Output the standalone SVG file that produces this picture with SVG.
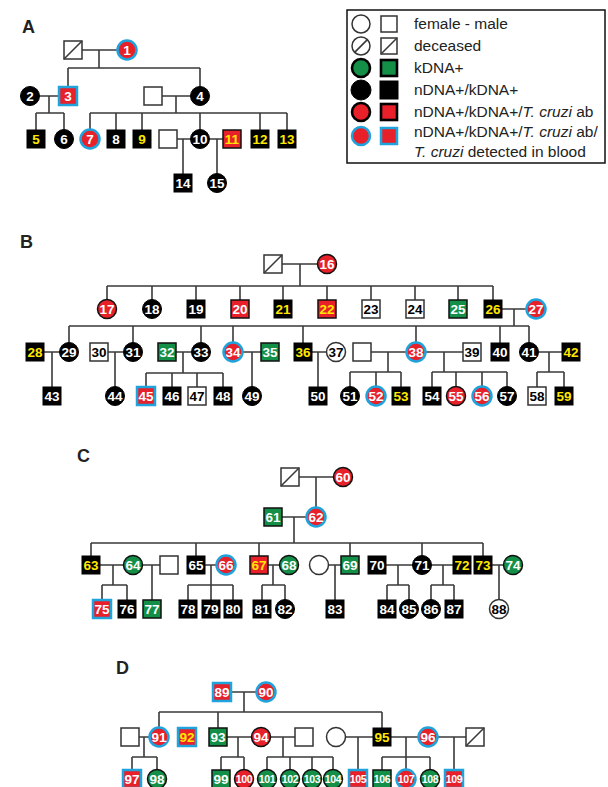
<svg xmlns="http://www.w3.org/2000/svg" width="608" height="787" viewBox="0 0 608 787">
<style>
.l{stroke:#3a3a3a;stroke-width:1.6;fill:none}
.k{fill:#000;stroke:#000;stroke-width:1}
.w{fill:#fff;stroke:#333;stroke-width:1.5}
.r{fill:#e8202a;stroke:#111;stroke-width:1.5}
.g{fill:#138f48;stroke:#111;stroke-width:1.5}
.b{fill:#e8202a;stroke:#1fa3dd;stroke-width:2.5}
.n{font-family:"Liberation Sans",Arial,sans-serif;font-weight:bold;font-size:13.5px;text-anchor:middle}
.s{font-size:10.5px;letter-spacing:-0.4px}
.tw{fill:#fff}.ty{fill:#ffe800}.tk{fill:#000}
.lab{font-family:"Liberation Sans",Arial,sans-serif;font-weight:bold;font-size:18px;fill:#222}
.lg{font-family:"Liberation Sans",Arial,sans-serif;font-size:15.5px;fill:#222}
.lgk{stroke:#000;stroke-width:2.6}
</style>
<rect width="608" height="787" fill="#fff"/>

<!-- Legend -->
<g id="legend">
<rect x="347" y="10" width="258" height="153" fill="#fff" stroke="#111" stroke-width="1.5"/>
<circle class="w" cx="361" cy="24" r="9"/><rect class="w" x="381" y="16" width="16" height="16"/>
<circle class="w" cx="361" cy="46" r="9"/><path class="l" d="M354.6,52.4 L367.4,39.6"/>
<rect class="w" x="381" y="38" width="16" height="16"/><path class="l" d="M381,54 L397,38"/>
<circle class="g lgk" cx="361" cy="68" r="9"/><rect class="g lgk" x="381" y="60" width="16" height="16"/>
<circle class="k" cx="361" cy="90" r="10"/><rect class="k" x="380" y="81" width="18" height="18"/>
<circle class="r lgk" cx="361" cy="112" r="9"/><rect class="r lgk" x="381" y="104" width="16" height="16"/>
<circle class="b" cx="361" cy="136" r="9"/><rect class="b" x="381" y="128" width="16" height="16"/>
<text class="lg" x="414" y="29">female - male</text>
<text class="lg" x="414" y="51">deceased</text>
<text class="lg" x="414" y="73">kDNA+</text>
<text class="lg" x="414" y="95">nDNA+/kDNA+</text>
<text class="lg" x="414" y="117">nDNA+/kDNA+/<tspan font-style="italic">T. cruzi</tspan> ab</text>
<text class="lg" x="414" y="137">nDNA+/kDNA+/<tspan font-style="italic">T. cruzi</tspan> ab/</text>
<text class="lg" x="414" y="157"><tspan font-style="italic">T. cruzi</tspan> detected in blood</text>
</g>

<!-- Panel labels -->
<text class="lab" x="22" y="33">A</text>
<text class="lab" x="20" y="248">B</text>
<text class="lab" x="77" y="462">C</text>
<text class="lab" x="116" y="674">D</text>

<!-- Connectors -->
<g id="connectors" class="l">
<path d="M82,50H117.5 M99,50V68 M68,68H200 M68,68V87 M200,68V86.5 M39.5,96H59 M49,96V113 M36,113H64 M36,113V130 M64,113V129.5 M162,96H190.5 M176,96V113 M90,113H287 M90,113V129.5 M116,113V130 M142,113V130 M200,113V129.5 M260,113V130 M287,113V130 M177,139H190.5 M183,139V174 M209.5,139H223 M217,139V173.5"/>
<path d="M282,264H317.5 M300,264V286 M107,286H493 M107,286V299.5 M152,286V299.5 M196,286V300 M240,286V300 M283,286V300 M327,286V300 M371,286V300 M415,286V300 M458,286V300 M493,286V300 M502,309H526.5 M514,309V326 M69,326H529 M69,326V342.5 M133,326V342.5 M201,326V342.5 M233,326V342.5 M303,326V343 M416,326V342.5 M500,326V343 M529,326V342.5"/>
<path d="M44,352H59.5 M52,352V387 M108,352H123.5 M115,352V386.5 M176,352H191.5 M183,352V373 M146,373H223 M146,373V387 M172,373V387 M197,373V387 M223,373V387 M242.5,352H261 M252,352V386.5 M312,352H326.5 M318,352V387 M371,352H406.5 M388,352V372 M350,372H401 M350,372V386.5 M376,372V386.5 M401,372V387 M425.5,352H463 M444,352V372 M432,372H507 M432,372V387 M456,372V386.5 M482,372V386.5 M507,372V386.5 M538.5,352H562 M549,352V372 M537,372H564 M537,372V387 M564,372V387"/>
<path d="M299,477H333.5 M316,477V507.5 M282,517H306.5 M294,517V543 M91,543H483 M91,543V556 M196,543V556 M259,543V556 M350,543V556 M422,543V555.5 M483,543V556 M100,565H123.5 M113,565V585 M102,585H127 M102,585V600 M127,585V600 M142.5,565H160 M152,565V600 M205,565H216.5 M211,565V585 M188,585H233 M188,585V600 M211,585V600 M233,585V600 M268,565H279.5 M273,565V585 M262,585H285 M262,585V600 M285,585V599.5 M328.5,565H341 M335,565V600 M386,565H412.5 M398,565V585 M387,585H409 M387,585V600 M409,585V599.5 M431.5,565H453 M443,565V585 M431,585H454 M431,585V599.5 M454,585V600 M492,565H503.5 M499,565V599.5"/>
<path d="M231,692H256.5 M244,692V712 M159,712H382 M159,712V727.5 M218,712V728 M382,712V728 M139,737H149.5 M144,737V757 M132,757H157 M132,757V770 M157,757V769.5 M227,737H251.5 M238,737V757 M221,757H244 M221,757V770 M244,757V769.5 M270.5,737H295 M283,737V757 M267,757H333 M267,757V769.5 M290,757V769.5 M312,757V769.5 M333,757V769.5 M345.5,737H373 M358,737V770 M391,737H418.5 M406,737V757 M382,757H430 M382,757V770 M406,757V769.5 M430,757V769.5 M437.5,737H466 M454,737V770"/>
</g>

<!-- Panel A nodes -->
<g id="A-d1"><rect class="w" x="64" y="41" width="18" height="18"/><path class="l" d="M64,59L82,41"/></g>
<g id="n1"><circle class="b" cx="127" cy="50" r="9.5"/><text class="n tw" x="127" y="54.5">1</text></g>
<g id="n2"><circle class="k" cx="30" cy="96" r="9.5"/><text class="n tw" x="30" y="100.5">2</text></g>
<g id="n3"><rect class="b" x="59" y="87" width="18" height="18"/><text class="n tw" x="68" y="100.5">3</text></g>
<g id="A-u1"><rect class="w" x="144" y="87" width="18" height="18"/></g>
<g id="n4"><circle class="k" cx="200" cy="96" r="9.5"/><text class="n tw" x="200" y="100.5">4</text></g>
<g id="n5"><rect class="k" x="27" y="130" width="18" height="18"/><text class="n ty" x="36" y="143.5">5</text></g>
<g id="n6"><circle class="k" cx="64" cy="139" r="9.5"/><text class="n tw" x="64" y="143.5">6</text></g>
<g id="n7"><circle class="b" cx="90" cy="139" r="9.5"/><text class="n tw" x="90" y="143.5">7</text></g>
<g id="n8"><rect class="k" x="107" y="130" width="18" height="18"/><text class="n tw" x="116" y="143.5">8</text></g>
<g id="n9"><rect class="k" x="133" y="130" width="18" height="18"/><text class="n ty" x="142" y="143.5">9</text></g>
<g id="A-u2"><rect class="w" x="159" y="130" width="18" height="18"/></g>
<g id="n10"><circle class="k" cx="200" cy="139" r="9.5"/><text class="n tw" x="200" y="143.5">10</text></g>
<g id="n11"><rect class="r" x="223" y="130" width="18" height="18"/><text class="n ty" x="232" y="143.5">11</text></g>
<g id="n12"><rect class="k" x="251" y="130" width="18" height="18"/><text class="n ty" x="260" y="143.5">12</text></g>
<g id="n13"><rect class="k" x="278" y="130" width="18" height="18"/><text class="n ty" x="287" y="143.5">13</text></g>
<g id="n14"><rect class="k" x="174" y="174" width="18" height="18"/><text class="n tw" x="183" y="187.5">14</text></g>
<g id="n15"><circle class="k" cx="217" cy="183" r="9.5"/><text class="n tw" x="217" y="187.5">15</text></g>

<!-- Panel B nodes -->
<g id="B-d1"><rect class="w" x="264" y="255" width="18" height="18"/><path class="l" d="M264,273L282,255"/></g>
<g id="n16"><circle class="r" cx="327" cy="264" r="9.5"/><text class="n tw" x="327" y="268.5">16</text></g>
<g id="n17"><circle class="r" cx="107" cy="309" r="9.5"/><text class="n tw" x="107" y="313.5">17</text></g>
<g id="n18"><circle class="k" cx="152" cy="309" r="9.5"/><text class="n tw" x="152" y="313.5">18</text></g>
<g id="n19"><rect class="k" x="187" y="300" width="18" height="18"/><text class="n tw" x="196" y="313.5">19</text></g>
<g id="n20"><rect class="r" x="231" y="300" width="18" height="18"/><text class="n tw" x="240" y="313.5">20</text></g>
<g id="n21"><rect class="k" x="274" y="300" width="18" height="18"/><text class="n ty" x="283" y="313.5">21</text></g>
<g id="n22"><rect class="r" x="318" y="300" width="18" height="18"/><text class="n ty" x="327" y="313.5">22</text></g>
<g id="n23"><rect class="w" x="362" y="300" width="18" height="18"/><text class="n tk" x="371" y="313.5">23</text></g>
<g id="n24"><rect class="w" x="406" y="300" width="18" height="18"/><text class="n tk" x="415" y="313.5">24</text></g>
<g id="n25"><rect class="g" x="449" y="300" width="18" height="18"/><text class="n tw" x="458" y="313.5">25</text></g>
<g id="n26"><rect class="k" x="484" y="300" width="18" height="18"/><text class="n ty" x="493" y="313.5">26</text></g>
<g id="n27"><circle class="b" cx="536" cy="309" r="9.5"/><text class="n tw" x="536" y="313.5">27</text></g>
<g id="n28"><rect class="k" x="26" y="343" width="18" height="18"/><text class="n ty" x="35" y="356.5">28</text></g>
<g id="n29"><circle class="k" cx="69" cy="352" r="9.5"/><text class="n tw" x="69" y="356.5">29</text></g>
<g id="n30"><rect class="w" x="90" y="343" width="18" height="18"/><text class="n tk" x="99" y="356.5">30</text></g>
<g id="n31"><circle class="k" cx="133" cy="352" r="9.5"/><text class="n tw" x="133" y="356.5">31</text></g>
<g id="n32"><rect class="g" x="158" y="343" width="18" height="18"/><text class="n tw" x="167" y="356.5">32</text></g>
<g id="n33"><circle class="k" cx="201" cy="352" r="9.5"/><text class="n tw" x="201" y="356.5">33</text></g>
<g id="n34"><circle class="b" cx="233" cy="352" r="9.5"/><text class="n tw" x="233" y="356.5">34</text></g>
<g id="n35"><rect class="g" x="261" y="343" width="18" height="18"/><text class="n tw" x="270" y="356.5">35</text></g>
<g id="n36"><rect class="k" x="294" y="343" width="18" height="18"/><text class="n ty" x="303" y="356.5">36</text></g>
<g id="n37"><circle class="w" cx="336" cy="352" r="9.5"/><text class="n tk" x="336" y="356.5">37</text></g>
<g id="B-u1"><rect class="w" x="353" y="343" width="18" height="18"/></g>
<g id="n38"><circle class="b" cx="416" cy="352" r="9.5"/><text class="n tw" x="416" y="356.5">38</text></g>
<g id="n39"><rect class="w" x="463" y="343" width="18" height="18"/><text class="n tk" x="472" y="356.5">39</text></g>
<g id="n40"><rect class="k" x="491" y="343" width="18" height="18"/><text class="n tw" x="500" y="356.5">40</text></g>
<g id="n41"><circle class="k" cx="529" cy="352" r="9.5"/><text class="n tw" x="529" y="356.5">41</text></g>
<g id="n42"><rect class="k" x="562" y="343" width="18" height="18"/><text class="n ty" x="571" y="356.5">42</text></g>
<g id="n43"><rect class="k" x="43" y="387" width="18" height="18"/><text class="n tw" x="52" y="400.5">43</text></g>
<g id="n44"><circle class="k" cx="115" cy="396" r="9.5"/><text class="n tw" x="115" y="400.5">44</text></g>
<g id="n45"><rect class="b" x="137" y="387" width="18" height="18"/><text class="n tw" x="146" y="400.5">45</text></g>
<g id="n46"><rect class="k" x="163" y="387" width="18" height="18"/><text class="n tw" x="172" y="400.5">46</text></g>
<g id="n47"><rect class="w" x="188" y="387" width="18" height="18"/><text class="n tk" x="197" y="400.5">47</text></g>
<g id="n48"><rect class="k" x="214" y="387" width="18" height="18"/><text class="n tw" x="223" y="400.5">48</text></g>
<g id="n49"><circle class="k" cx="252" cy="396" r="9.5"/><text class="n tw" x="252" y="400.5">49</text></g>
<g id="n50"><rect class="k" x="309" y="387" width="18" height="18"/><text class="n tw" x="318" y="400.5">50</text></g>
<g id="n51"><circle class="k" cx="350" cy="396" r="9.5"/><text class="n tw" x="350" y="400.5">51</text></g>
<g id="n52"><circle class="b" cx="376" cy="396" r="9.5"/><text class="n tw" x="376" y="400.5">52</text></g>
<g id="n53"><rect class="k" x="392" y="387" width="18" height="18"/><text class="n ty" x="401" y="400.5">53</text></g>
<g id="n54"><rect class="k" x="423" y="387" width="18" height="18"/><text class="n tw" x="432" y="400.5">54</text></g>
<g id="n55"><circle class="r" cx="456" cy="396" r="9.5"/><text class="n tw" x="456" y="400.5">55</text></g>
<g id="n56"><circle class="b" cx="482" cy="396" r="9.5"/><text class="n tw" x="482" y="400.5">56</text></g>
<g id="n57"><circle class="k" cx="507" cy="396" r="9.5"/><text class="n tw" x="507" y="400.5">57</text></g>
<g id="n58"><rect class="w" x="528" y="387" width="18" height="18"/><text class="n tk" x="537" y="400.5">58</text></g>
<g id="n59"><rect class="k" x="555" y="387" width="18" height="18"/><text class="n ty" x="564" y="400.5">59</text></g>

<!-- Panel C nodes -->
<g id="C-d1"><rect class="w" x="281" y="468" width="18" height="18"/><path class="l" d="M281,486L299,468"/></g>
<g id="n60"><circle class="r" cx="343" cy="477" r="9.5"/><text class="n tw" x="343" y="481.5">60</text></g>
<g id="n61"><rect class="g" x="264" y="508" width="18" height="18"/><text class="n tw" x="273" y="521.5">61</text></g>
<g id="n62"><circle class="b" cx="316" cy="517" r="9.5"/><text class="n tw" x="316" y="521.5">62</text></g>
<g id="n63"><rect class="k" x="82" y="556" width="18" height="18"/><text class="n ty" x="91" y="569.5">63</text></g>
<g id="n64"><circle class="g" cx="133" cy="565" r="9.5"/><text class="n tw" x="133" y="569.5">64</text></g>
<g id="C-u1"><rect class="w" x="160" y="556" width="18" height="18"/></g>
<g id="n65"><rect class="k" x="187" y="556" width="18" height="18"/><text class="n tw" x="196" y="569.5">65</text></g>
<g id="n66"><circle class="b" cx="226" cy="565" r="9.5"/><text class="n tw" x="226" y="569.5">66</text></g>
<g id="n67"><rect class="r" x="250" y="556" width="18" height="18"/><text class="n ty" x="259" y="569.5">67</text></g>
<g id="n68"><circle class="g" cx="289" cy="565" r="9.5"/><text class="n tw" x="289" y="569.5">68</text></g>
<g id="C-u2"><circle class="w" cx="319" cy="565" r="9.5"/></g>
<g id="n69"><rect class="g" x="341" y="556" width="18" height="18"/><text class="n tw" x="350" y="569.5">69</text></g>
<g id="n70"><rect class="k" x="368" y="556" width="18" height="18"/><text class="n tw" x="377" y="569.5">70</text></g>
<g id="n71"><circle class="k" cx="422" cy="565" r="9.5"/><text class="n tw" x="422" y="569.5">71</text></g>
<g id="n72"><rect class="k" x="453" y="556" width="18" height="18"/><text class="n ty" x="462" y="569.5">72</text></g>
<g id="n73"><rect class="k" x="474" y="556" width="18" height="18"/><text class="n ty" x="483" y="569.5">73</text></g>
<g id="n74"><circle class="g" cx="513" cy="565" r="9.5"/><text class="n tw" x="513" y="569.5">74</text></g>
<g id="n75"><rect class="b" x="93" y="600" width="18" height="18"/><text class="n tw" x="102" y="613.5">75</text></g>
<g id="n76"><rect class="k" x="118" y="600" width="18" height="18"/><text class="n tw" x="127" y="613.5">76</text></g>
<g id="n77"><rect class="g" x="143" y="600" width="18" height="18"/><text class="n tw" x="152" y="613.5">77</text></g>
<g id="n78"><rect class="k" x="179" y="600" width="18" height="18"/><text class="n tw" x="188" y="613.5">78</text></g>
<g id="n79"><rect class="k" x="202" y="600" width="18" height="18"/><text class="n tw" x="211" y="613.5">79</text></g>
<g id="n80"><rect class="k" x="224" y="600" width="18" height="18"/><text class="n tw" x="233" y="613.5">80</text></g>
<g id="n81"><rect class="k" x="253" y="600" width="18" height="18"/><text class="n tw" x="262" y="613.5">81</text></g>
<g id="n82"><circle class="k" cx="285" cy="609" r="9.5"/><text class="n tw" x="285" y="613.5">82</text></g>
<g id="n83"><rect class="k" x="326" y="600" width="18" height="18"/><text class="n tw" x="335" y="613.5">83</text></g>
<g id="n84"><rect class="k" x="378" y="600" width="18" height="18"/><text class="n tw" x="387" y="613.5">84</text></g>
<g id="n85"><circle class="k" cx="409" cy="609" r="9.5"/><text class="n tw" x="409" y="613.5">85</text></g>
<g id="n86"><circle class="k" cx="431" cy="609" r="9.5"/><text class="n tw" x="431" y="613.5">86</text></g>
<g id="n87"><rect class="k" x="445" y="600" width="18" height="18"/><text class="n tw" x="454" y="613.5">87</text></g>
<g id="n88"><circle class="w" cx="499" cy="609" r="9.5"/><text class="n tk" x="499" y="613.5">88</text></g>

<!-- Panel D nodes -->
<g id="n89"><rect class="b" x="213" y="683" width="18" height="18"/><text class="n tw" x="222" y="696.5">89</text></g>
<g id="n90"><circle class="b" cx="266" cy="692" r="9.5"/><text class="n tw" x="266" y="696.5">90</text></g>
<g id="D-u1"><rect class="w" x="121" y="728" width="18" height="18"/></g>
<g id="n91"><circle class="b" cx="159" cy="737" r="9.5"/><text class="n tw" x="159" y="741.5">91</text></g>
<g id="n92"><rect class="b" x="178" y="728" width="18" height="18"/><text class="n ty" x="187" y="741.5">92</text></g>
<g id="n93"><rect class="g" x="209" y="728" width="18" height="18"/><text class="n tw" x="218" y="741.5">93</text></g>
<g id="n94"><circle class="r" cx="261" cy="737" r="9.5"/><text class="n tw" x="261" y="741.5">94</text></g>
<g id="D-u2"><rect class="w" x="295" y="728" width="18" height="18"/></g>
<g id="D-u3"><circle class="w" cx="336" cy="737" r="9.5"/></g>
<g id="n95"><rect class="k" x="373" y="728" width="18" height="18"/><text class="n ty" x="382" y="741.5">95</text></g>
<g id="n96"><circle class="b" cx="428" cy="737" r="9.5"/><text class="n tw" x="428" y="741.5">96</text></g>
<g id="D-d1"><rect class="w" x="466" y="728" width="18" height="18"/><path class="l" d="M466,746L484,728"/></g>
<g id="n97"><rect class="b" x="123" y="770" width="18" height="18"/><text class="n tw" x="132" y="783.5">97</text></g>
<g id="n98"><circle class="g" cx="157" cy="779" r="9.5"/><text class="n tw" x="157" y="783.5">98</text></g>
<g id="n99"><rect class="g" x="212" y="770" width="18" height="18"/><text class="n tw" x="221" y="783.5">99</text></g>
<g id="n100"><circle class="r" cx="244" cy="779" r="9.5"/><text class="n s tw" x="244" y="782.8">100</text></g>
<g id="n101"><circle class="g" cx="267" cy="779" r="9.5"/><text class="n s tw" x="267" y="782.8">101</text></g>
<g id="n102"><circle class="g" cx="290" cy="779" r="9.5"/><text class="n s tw" x="290" y="782.8">102</text></g>
<g id="n103"><circle class="g" cx="312" cy="779" r="9.5"/><text class="n s tw" x="312" y="782.8">103</text></g>
<g id="n104"><circle class="g" cx="333" cy="779" r="9.5"/><text class="n s tw" x="333" y="782.8">104</text></g>
<g id="n105"><rect class="b" x="349" y="770" width="18" height="18"/><text class="n s tw" x="358" y="782.8">105</text></g>
<g id="n106"><rect class="g" x="373" y="770" width="18" height="18"/><text class="n s tw" x="382" y="782.8">106</text></g>
<g id="n107"><circle class="b" cx="406" cy="779" r="9.5"/><text class="n s tw" x="406" y="782.8">107</text></g>
<g id="n108"><circle class="g" cx="430" cy="779" r="9.5"/><text class="n s tw" x="430" y="782.8">108</text></g>
<g id="n109"><rect class="b" x="445" y="770" width="18" height="18"/><text class="n s tw" x="454" y="782.8">109</text></g>
</svg>
